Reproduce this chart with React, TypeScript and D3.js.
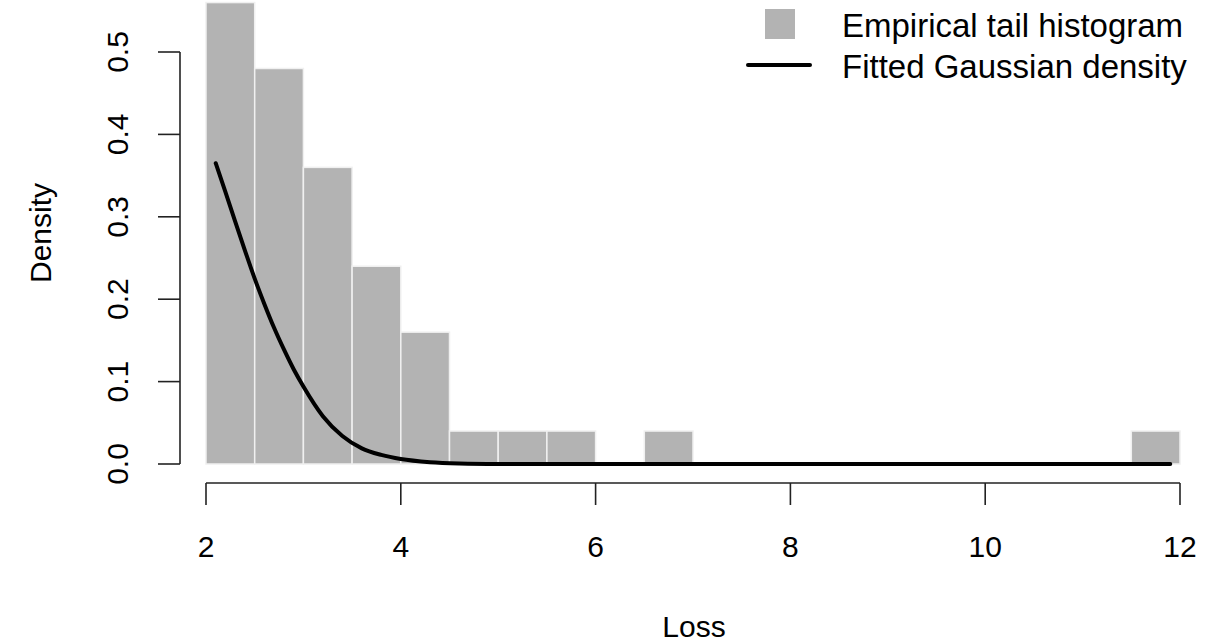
import React, { useEffect, useRef } from "react";
import * as d3 from "d3";

// histogram bins (density), width 0.5 from 2 to 12
const binStarts = [2, 2.5, 3, 3.5, 4, 4.5, 5, 5.5, 6, 6.5, 7, 7.5, 8, 8.5, 9, 9.5, 10, 10.5, 11, 11.5];
const binDensity = [0.56, 0.48, 0.36, 0.24, 0.16, 0.04, 0.04, 0.04, 0, 0.04, 0, 0, 0, 0, 0, 0, 0, 0, 0, 0.04];
const binWidth = 0.5;

// fitted gaussian density
const curveX = [2.1, 2.2, 2.3, 2.4, 2.5, 2.6, 2.7, 2.8, 2.9, 3.0, 3.2, 3.4, 3.6, 3.8, 4.0, 4.3, 4.6, 5.0, 5.5, 7, 9, 11.9];
const curveY = [0.365, 0.33, 0.294, 0.259, 0.225, 0.194, 0.165, 0.139, 0.115, 0.094, 0.058, 0.034, 0.019, 0.011, 0.006, 0.0022, 0.0007, 0.0001, 0, 0, 0, 0];

const xTicks = [2, 4, 6, 8, 10, 12];
const yTicks = [0, 0.1, 0.2, 0.3, 0.4, 0.5];

const legendLabels = ["Empirical tail histogram", "Fitted Gaussian density"];

const W = 1220;
const H = 642;
const font = "'Liberation Sans', Arial, Helvetica, sans-serif";

export default function App() {
  const ref = useRef<SVGSVGElement>(null);

  useEffect(() => {
    const svg = d3.select(ref.current).attr("width", W).attr("height", H);
    svg.selectAll("*").remove();

    const x = d3.scaleLinear().domain([2, 12]).range([206, 1180]);
    const y = d3.scaleLinear().domain([0, 0.5]).range([464, 52]);

    const bars = binStarts.map((s, i) => ({ s, d: binDensity[i] }));
    svg
      .append("g")
      .selectAll("rect")
      .data(bars.filter((b) => b.d > 0))
      .enter()
      .append("rect")
      .attr("x", (b) => x(b.s))
      .attr("width", (b) => x(b.s + binWidth) - x(b.s))
      .attr("y", (b) => y(b.d))
      .attr("height", (b) => y(0) - y(b.d))
      .attr("fill", "#b3b3b3")
      .attr("stroke", "#f0f0f0")
      .attr("stroke-width", 1.5);

    const pts = curveX.map((v, i) => [v, curveY[i]] as [number, number]);
    svg
      .append("path")
      .datum(pts)
      .attr(
        "d",
        d3
          .line<[number, number]>()
          .x((d) => x(d[0]))
          .y((d) => y(d[1]))
          .curve(d3.curveMonotoneX)
      )
      .attr("fill", "none")
      .attr("stroke", "#000")
      .attr("stroke-width", 4)
      .attr("stroke-linecap", "round");

    const axisColor = "#222";
    // x axis
    const xa = svg.append("g");
    xa.append("line")
      .attr("x1", x(2))
      .attr("x2", x(12))
      .attr("y1", 483)
      .attr("y2", 483)
      .attr("stroke", axisColor)
      .attr("stroke-width", 1.6);
    xTicks.forEach((t) => {
      xa.append("line")
        .attr("x1", x(t))
        .attr("x2", x(t))
        .attr("y1", 483)
        .attr("y2", 505)
        .attr("stroke", axisColor)
        .attr("stroke-width", 1.6);
      xa.append("text")
        .attr("x", x(t))
        .attr("y", 557)
        .attr("text-anchor", "middle")
        .attr("font-family", font)
        .attr("font-size", 30)
        .attr("fill", "#000")
        .text(String(t));
    });

    // y axis
    const ya = svg.append("g");
    ya.append("line")
      .attr("x1", 180)
      .attr("x2", 180)
      .attr("y1", y(0))
      .attr("y2", y(0.5))
      .attr("stroke", axisColor)
      .attr("stroke-width", 1.6);
    yTicks.forEach((t) => {
      ya.append("line")
        .attr("x1", 158)
        .attr("x2", 180)
        .attr("y1", y(t))
        .attr("y2", y(t))
        .attr("stroke", axisColor)
        .attr("stroke-width", 1.6);
      ya.append("text")
        .attr("transform", `translate(128,${y(t)}) rotate(-90)`)
        .attr("text-anchor", "middle")
        .attr("font-family", font)
        .attr("font-size", 30)
        .attr("fill", "#000")
        .text(t.toFixed(1));
    });

    // axis titles
    svg
      .append("text")
      .attr("x", 694)
      .attr("y", 637)
      .attr("text-anchor", "middle")
      .attr("font-family", font)
      .attr("font-size", 30)
      .text("Loss");
    svg
      .append("text")
      .attr("transform", "translate(51,233) rotate(-90)")
      .attr("text-anchor", "middle")
      .attr("font-family", font)
      .attr("font-size", 30)
      .text("Density");

    // legend
    const lg = svg.append("g");
    lg.append("rect")
      .attr("x", 765)
      .attr("y", 9)
      .attr("width", 30)
      .attr("height", 30)
      .attr("fill", "#b3b3b3");
    lg.append("line")
      .attr("x1", 748)
      .attr("x2", 810)
      .attr("y1", 65)
      .attr("y2", 65)
      .attr("stroke", "#000")
      .attr("stroke-width", 4)
      .attr("stroke-linecap", "round");
    legendLabels.forEach((l, i) => {
      lg.append("text")
        .attr("x", 842)
        .attr("y", 37 + i * 41)
        .attr("font-family", font)
        .attr("font-size", 33)
        .attr("fill", "#000")
        .text(l);
    });
  }, []);

  return (
    <div style={{ position: "absolute", left: 0, top: 0 }}>
      <svg ref={ref} style={{ display: "block" }} />
    </div>
  );
}
